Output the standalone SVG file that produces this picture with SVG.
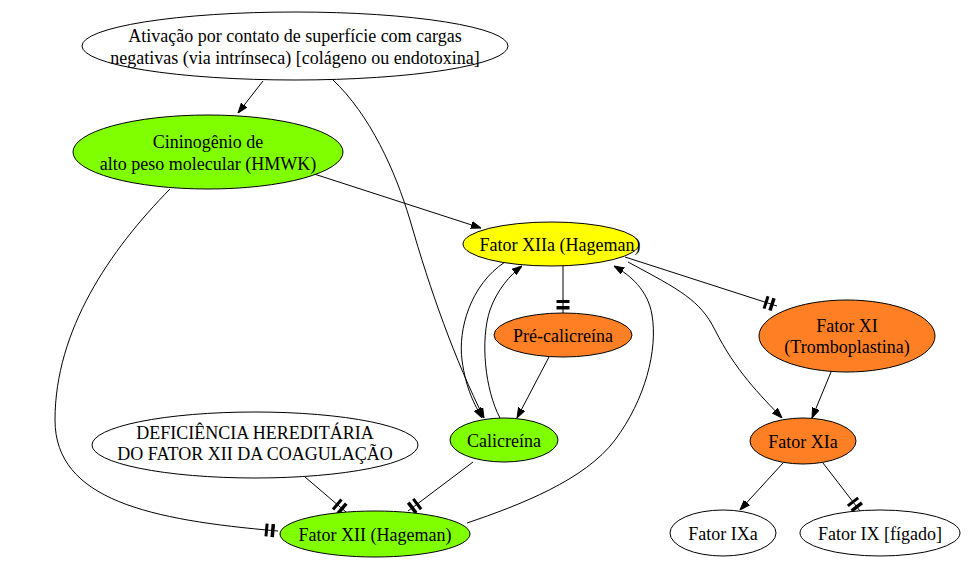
<svg xmlns="http://www.w3.org/2000/svg" width="968" height="562" viewBox="0 0 968 562">
<style>
  .n { stroke: #000; stroke-width: 1; }
  .white { fill: #fff; }
  .green { fill: #7fff00; }
  .yellow { fill: #ffff00; }
  .orange { fill: #ff7f24; }
  text { font-family: "Liberation Serif", "Times New Roman", serif; font-size: 18px; fill: #000; text-anchor: middle; }
  .e { fill: none; stroke: #000; stroke-width: 1; }
  .arr { marker-end: url(#arrow); }
  .tee { marker-end: url(#teetee); }
</style>
<defs>
  <marker id="arrow" viewBox="0 -4 10 8" refX="10" refY="0" markerWidth="10" markerHeight="8" markerUnits="userSpaceOnUse" orient="auto">
    <path d="M0,-3.5 L10,0 L0,3.5 Z" fill="#000" stroke="#000" stroke-width="1"/>
  </marker>
  <marker id="teetee" viewBox="0 -7 14 14" refX="14" refY="0" markerWidth="14" markerHeight="14" markerUnits="userSpaceOnUse" orient="auto">
    <rect x="1" y="-6.5" width="3" height="13" fill="#000"/>
    <rect x="7" y="-6.5" width="3.5" height="13" fill="#000"/>
  </marker>
</defs>
<rect width="968" height="562" fill="#fff"/>

<g id="edges">
  <path class="e arr" d="M263,81 L238,113"/>
  <path class="e arr" d="M333,80 C370,115 395,170 410,220 C430,290 455,360 484,418"/>
  <path class="e arr" d="M308,172 L481,228"/>
  <path class="e tee" d="M170,189 C110,250 55,330 55,420 C55,500 150,520 278,531"/>
  <path class="e tee" d="M563,266 L563,313"/>
  <path class="e arr" d="M505,262 C470,285 458,330 462,360 C466,390 475,405 482,418"/>
  <path class="e arr" d="M500,418 C485,390 480,340 490,310 C497,290 510,275 522,266"/>
  <path class="e arr" d="M549,357 L517,418"/>
  <path class="e arr" d="M467,523 C520,505 585,480 615,440 C645,400 658,350 652,315 C648,290 630,275 614,266"/>
  <path class="e tee" d="M473,462 L408,511"/>
  <path class="e tee" d="M305,477 L346,512"/>
  <path class="e tee" d="M625,257 L777,306"/>
  <path class="e arr" d="M628,262 C680,290 700,300 715,330 C735,370 760,395 782,418"/>
  <path class="e arr" d="M831,372 L812,418"/>
  <path class="e arr" d="M783,463 L740,510"/>
  <path class="e tee" d="M823,463 L860,511"/>
</g>

<g id="ativacao">
  <ellipse class="n white" cx="295" cy="46" rx="213" ry="34"/>
  <text x="295" y="42">Ativação por contato de superfície com cargas</text>
  <text x="295" y="64">negativas (via intrínseca) [colágeno ou endotoxina]</text>
</g>
<g id="hmwk">
  <ellipse class="n green" cx="208" cy="152" rx="135" ry="37"/>
  <text x="208" y="148">Cininogênio de</text>
  <text x="208" y="170">alto peso molecular (HMWK)</text>
</g>
<g id="fxiia">
  <ellipse class="n yellow" cx="551" cy="244" rx="88" ry="22"/>
  <text x="560" y="251">Fator XIIa (Hageman)</text>
</g>
<g id="precalicreina">
  <ellipse class="n orange" cx="563" cy="335" rx="69" ry="22"/>
  <text x="563" y="342">Pré-calicreína</text>
</g>
<g id="calicreina">
  <ellipse class="n green" cx="504" cy="440" rx="54" ry="22"/>
  <text x="504" y="447">Calicreína</text>
</g>
<g id="deficiencia">
  <ellipse class="n white" cx="255" cy="445" rx="163" ry="33"/>
  <text x="255" y="439">DEFICIÊNCIA HEREDITÁRIA</text>
  <text x="255" y="460">DO FATOR XII DA COAGULAÇÃO</text>
</g>
<g id="fxii">
  <ellipse class="n green" cx="375" cy="534" rx="95" ry="23"/>
  <text x="375" y="541">Fator XII (Hageman)</text>
</g>
<g id="fxi">
  <ellipse class="n orange" cx="847" cy="336" rx="88" ry="36"/>
  <text x="847" y="332">Fator XI</text>
  <text x="847" y="353">(Tromboplastina)</text>
</g>
<g id="fxia">
  <ellipse class="n orange" cx="803" cy="441" rx="53" ry="23"/>
  <text x="803" y="448">Fator XIa</text>
</g>
<g id="fixa">
  <ellipse class="n white" cx="723" cy="533" rx="53" ry="23"/>
  <text x="723" y="540">Fator IXa</text>
</g>
<g id="fix">
  <ellipse class="n white" cx="880" cy="533" rx="80" ry="23"/>
  <text x="880" y="540">Fator IX [fígado]</text>
</g>
</svg>
